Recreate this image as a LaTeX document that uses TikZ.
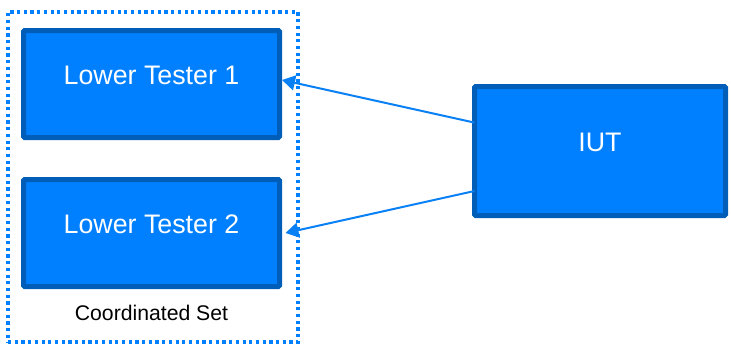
\documentclass[tikz,border=0pt]{standalone}
\usepackage{fontspec}
\setmainfont{Liberation Sans}
\usetikzlibrary{arrows.meta,positioning,calc}
\definecolor{boxfill}{HTML}{0080FF}
\definecolor{boxline}{HTML}{005EB8}
\definecolor{linkcol}{HTML}{0A80F5}
\tikzset{
  testerbox/.style = {
    rectangle,
    draw=boxline,
    fill=boxfill,
    line width=2.5pt,
    rounded corners=0.6pt,
    outer sep=0pt,
    text=white,
    text depth=9pt,
    font=\fontsize{13.4}{15}\selectfont,
    align=center,
    minimum width=128pt,
    minimum height=53.5pt
  },
  setframe/.style = {
    rectangle,
    draw=boxfill,
    line width=1.6pt,
    dash pattern=on 1.6pt off 1.75pt,
    minimum width=145pt,
    minimum height=165pt
  },
  setlabel/.style = {
    font=\fontsize{10.6}{12}\selectfont,
    text=black
  },
  linkarrow/.style = {
    -{Triangle[length=6.5pt,width=7.5pt]},
    draw=linkcol,
    line width=1pt
  }
}
\begin{document}
\begin{tikzpicture}[x=0.5pt,y=-0.5pt]
    \useasboundingbox (0,0) rectangle (731,343);
    \node[setframe] (cset) at (153,177) {};
    \node[testerbox] (lt1) at (151.5,84) {Lower Tester 1};
    \node[testerbox, below=21pt of lt1] (lt2) {Lower Tester 2};
    \node[setlabel, below=6pt of lt2] (setname) {Coordinated Set};
    \node[testerbox, minimum width=125.5pt, minimum height=64.5pt] (iut) at (600,151) {IUT};
    \coordinate (iuta) at ($(iut.north west)!0.28!(iut.south west)$);
    \coordinate (iutb) at ($(iut.north west)!0.81!(iut.south west)$);
    \draw[linkarrow] (iuta) -- ($(lt1.east)+(1.25pt,2pt)$);
    \draw[linkarrow] (iutb) -- ($(lt2.east)+(3pt,0)$);
  \end{tikzpicture}
\end{document}
